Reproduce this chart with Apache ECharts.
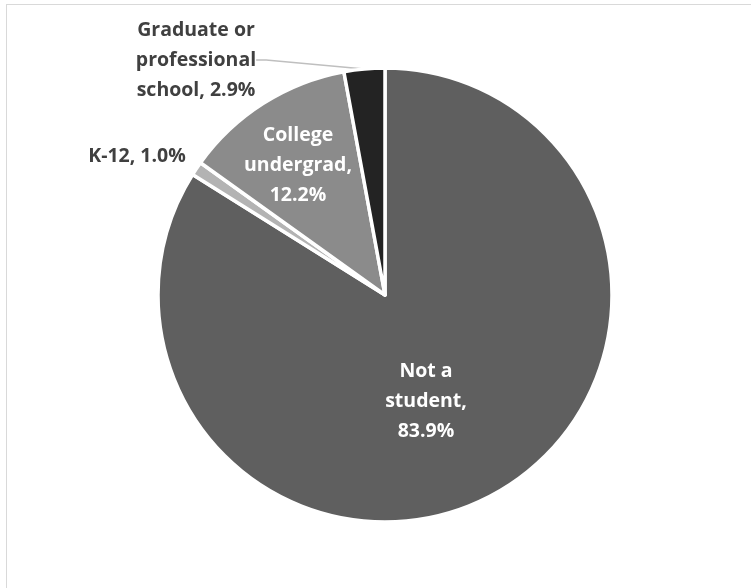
<!DOCTYPE html>
<html>
<head>
<meta charset="utf-8">
<script src="https://cdn.jsdelivr.net/npm/echarts@6/dist/echarts.min.js"></script>
<style>
  html, body { margin: 0; padding: 0; background: #fff; overflow: hidden; }
  #frame { position: absolute; left: 6px; top: 4px; width: 900px; height: 800px; border: 1px solid #d9d9d9; }
  #chart { position: absolute; left: 0; top: 0; width: 751px; height: 588px; }
</style>
</head>
<body>
<div id="frame"></div>
<div id="chart"></div>
<script>
const categories = ["Not a student", "K-12", "College undergrad", "Graduate or professional school"];
const labelNames = ["Not a\nstudent,", "K-12,", "College\nundergrad,", "Graduate or\nprofessional\nschool,"];
const values = [83.9, 1.0, 12.2, 2.9];
const colors = ["#5f5f5f", "#b3b3b3", "#8b8b8b", "#232323"];

const labelSpots = [
  { x: 426, y: 401 },
  { x: 137, y: 156 },
  { x: 298, y: 165 },
  { x: 196, y: 60 }
];
const insideLabel = [true, false, true, false];

const chart = echarts.init(document.getElementById('chart'), null, { renderer: 'canvas' });

const data = categories.map((c, i) => ({
  name: c,
  value: values[i],
  itemStyle: { color: colors[i] },
  label: {
    color: insideLabel[i] ? '#ffffff' : '#404040'
  },
  labelLine: { show: i === 3, lineStyle: { color: '#bfbfbf', width: 1.5 } }
}));

chart.setOption({
  animation: false,
  series: [{
    type: 'pie',
    center: [385, 295],
    radius: [0, 227],
    startAngle: 90,
    clockwise: true,
    data: data,
    itemStyle: { borderColor: '#ffffff', borderWidth: 3.5 },
    label: {
      show: true,
      position: 'outside',
      fontFamily: 'Open Sans',
      fontWeight: 'bold',
      fontSize: 19.5,
      lineHeight: 30,
      align: 'center',
      formatter: function (p) {
        const t = labelNames[p.dataIndex];
        const v = values[p.dataIndex].toFixed(1) + '%';
        return p.dataIndex === 1 ? t + ' ' + v : (p.dataIndex === 3 ? t + ' ' + v : t + '\n' + v);
      }
    },
    labelLine: { show: true, length: 10, length2: 10, smooth: false },
    labelLayout: function (params) {
      const s = labelSpots[params.dataIndex];
      return { x: s.x, y: s.y, align: 'center', verticalAlign: 'middle' };
    },
    emphasis: { disabled: true }
  }]
});
</script>
</body>
</html>
